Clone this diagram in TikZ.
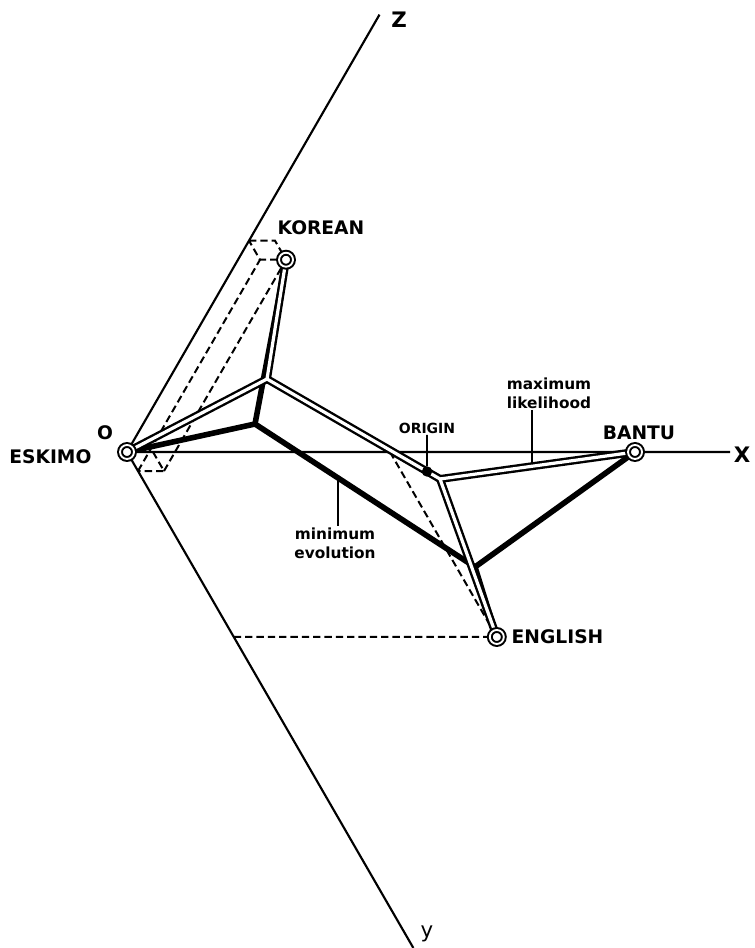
\documentclass[tikz,border=0pt]{standalone}
\usepackage{fontspec}
\setmainfont{DejaVu Sans}
\usetikzlibrary{calc, positioning}
\pgfdeclarelayer{bg}
\pgfsetlayers{bg,main}

\begin{document}
\begin{tikzpicture}[
  x=0.75pt, y=0.75pt,
  lab/.style={font=\bfseries\fontsize{14}{16}\selectfont, inner sep=1pt},
  tiny/.style={font=\bfseries\fontsize{10.5}{12}\selectfont, inner sep=1pt},
  note/.style={font=\bfseries\fontsize{11.5}{14}\selectfont, align=center, inner sep=1pt},
  axlab/.style={font=\bfseries\fontsize{16}{18}\selectfont, inner sep=0pt},
  taxon/.style={circle, draw, fill=white, line width=1.5pt, double, double distance=1.4pt,
                minimum size=10.5pt, inner sep=0pt},
  dot/.style={circle, fill, minimum size=7.8pt, inner sep=0pt},
  axis/.style={line width=1.6pt},
  proj/.style={line width=1.5pt, dash pattern=on 5.5pt off 3pt},
  minev/.style={line width=4.2pt, line cap=round, line join=round},
  mlout/.style={line width=6pt, line cap=round},
  mlin/.style={line width=2.4pt, line cap=round, white},
  lead/.style={line width=1.3pt},
]
\useasboundingbox (0,0) rectangle (755,948);

\node[taxon] (eskimo)  at (127,496) {};
\node[taxon] (korean)  at ($(eskimo)+(26,0)+(-60:22)+(60:244)$) {};
\node[taxon] (bantu)   at (635,496) {};
\node[taxon] (english) at ($(eskimo)+(263,0)+(-60:213.6)$) {};

\coordinate (xend) at (730,496);
\coordinate (yend) at ($(eskimo)+(-60:572.7)$);
\coordinate (zend) at ($(eskimo)+(60:505)$);

\coordinate (kx)  at ($(eskimo)+(26,0)$);
\coordinate (ky)  at ($(eskimo)+(-60:22)$);
\coordinate (kxy) at ($(kx)+(-60:22)$);
\coordinate (kz)  at ($(eskimo)+(60:244)$);
\coordinate (kzx) at ($(kz)+(26,0)$);
\coordinate (kzy) at ($(kz)+(-60:22)$);
\coordinate (ex)  at ($(eskimo)+(263,0)$);
\coordinate (ey)  at ($(eskimo)+(-60:213.6)$);

\coordinate (A) at (267,569);
\coordinate (B) at (440,469);
\coordinate (C) at (255,524);
\coordinate (D) at (475,381);
\node[dot] (origin) at ($(A)!0.925!(B)$) {};

\node[lab, anchor=east] (eskimolab) at (93,491) {ESKIMO};
\node[lab] (olab) at (105,515) {O};
\node[lab, anchor=south west] (koreanlab) at (276,712) {KOREAN};
\node[lab, above=2pt of bantu, xshift=3pt] (bantulab) {BANTU};
\node[lab, right=4pt of english] (englishlab) {ENGLISH};
\node[tiny] (originlab) at (427,520) {ORIGIN};
\node[note] (mllab) at (549,555) {maximum\\likelihood};
\node[note] (melab) at (335,405) {minimum\\evolution};
\node[axlab] (zlab) at (399,928) {Z};
\node[axlab] (xlab) at (742,493) {X};
\node[axlab, font=\fontsize{16}{18}\selectfont, anchor=base] (ylab) at (427,11) {y};

\coordinate (mlpt) at ($(B)!0.47!(bantu)$);
\coordinate (mept) at ($(C)!0.377!(D)$);

\begin{pgfonlayer}{bg}
\draw[axis] (eskimo.center) -- (xend) (eskimo.center) -- (yend) (eskimo.center) -- (zend);
\draw[proj] (kx) -- (kxy) -- (ky);
\draw[proj] (kz) -- (kzx) -- (korean.center) -- (kzy) -- cycle;
\draw[proj] (ky) -- (kzy) (kxy) -- (korean.center);
\draw[proj] (ex) -- (english.center) (ey) -- (english.center);
\draw[lead] (mllab.south -| mlpt) -- (mlpt);
\draw[lead] (mept) -- (melab.north -| mept);
\draw[lead] (originlab) -- (origin);
\foreach \p/\q in {eskimo/C, C/korean, C/D, D/bantu, D/english}
  \draw[minev] (\p.center) -- (\q.center);
\foreach \p/\q in {eskimo/A, A/korean, A/B, B/bantu, B/english}
  \draw[mlout] (\p.center) -- (\q.center);
\foreach \p/\q in {eskimo/A, A/korean, A/B, B/bantu, B/english}
  \draw[mlin] (\p.center) -- (\q.center);
\end{pgfonlayer}
\end{tikzpicture}
\end{document}
